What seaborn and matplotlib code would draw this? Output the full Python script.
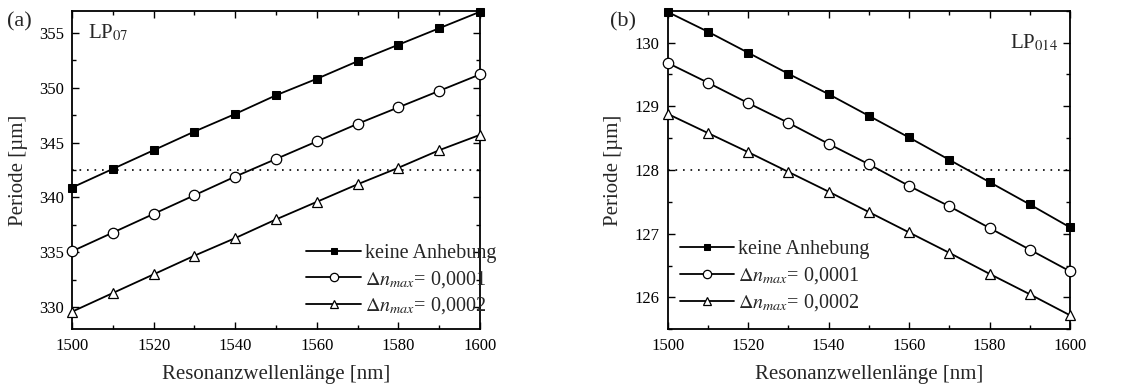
import numpy as np
import pandas as pd
import matplotlib
matplotlib.use("Agg")
import matplotlib.pyplot as plt
import seaborn as sns
from matplotlib.ticker import MultipleLocator

wavelength = [1500, 1510, 1520, 1530, 1540, 1550, 1560, 1570, 1580, 1590, 1600]

lp07_none = [340.9, 342.6, 344.3, 346.0, 347.6, 349.3, 350.8, 352.4, 353.9, 355.4, 356.9]
lp07_d1 = [335.1, 336.8, 338.5, 340.2, 341.9, 343.5, 345.1, 346.7, 348.2, 349.7, 351.2]
lp07_d2 = [329.6, 331.3, 333.0, 334.7, 336.3, 338.0, 339.6, 341.2, 342.7, 344.3, 345.7]
lp07_ref = 342.5

lp014_none = [130.48, 130.17, 129.84, 129.51, 129.19, 128.85, 128.51, 128.16, 127.81, 127.46, 127.10]
lp014_d1 = [129.68, 129.37, 129.05, 128.74, 128.41, 128.09, 127.75, 127.43, 127.09, 126.75, 126.41]
lp014_d2 = [128.88, 128.58, 128.28, 127.97, 127.66, 127.34, 127.02, 126.70, 126.37, 126.05, 125.72]
lp014_ref = 128.0

series_labels = ["keine Anhebung", r"$\Delta n_{max}$= 0,0001", r"$\Delta n_{max}$= 0,0002"]
x_ticks = [1500, 1520, 1540, 1560, 1580, 1600]
y_ticks_a = [330, 335, 340, 345, 350, 355]
y_ticks_b = [126, 127, 128, 129, 130]

sns.set_style("ticks")
plt.rcParams["font.family"] = ["Liberation Serif", "DejaVu Serif"]
plt.rcParams["mathtext.fontset"] = "stix"

fig = plt.figure(figsize=(11.36, 3.89), dpi=100)
ax1 = fig.add_axes([0.0634, 0.1535, 0.3591, 0.819])
ax2 = fig.add_axes([0.5878, 0.1535, 0.3541, 0.819])

marker_styles = [
    dict(marker="s", markerfacecolor="black", markeredgecolor="black", markersize=6),
    dict(marker="o", markerfacecolor="white", markeredgecolor="black", markersize=7.5, markeredgewidth=0.9),
    dict(marker="^", markerfacecolor="white", markeredgecolor="black", markersize=7.5, markeredgewidth=0.9),
]

def draw(ax, series, ref, ylim, yticks, yminor, legend_anchor):
    for vals, lab, ms in zip(series, series_labels, marker_styles):
        df = pd.DataFrame({"x": wavelength, "y": vals})
        sns.lineplot(data=df, x="x", y="y", ax=ax, color="black", linewidth=1.3,
                     label=lab, clip_on=False, zorder=3, **ms)
    ax.axhline(ref, color="black", linewidth=1.2, linestyle=(0, (1, 3.5)), zorder=2)
    ax.set_xlim(1500, 1600)
    ax.set_ylim(*ylim)
    ax.set_xticks(x_ticks)
    ax.set_yticks(yticks)
    ax.xaxis.set_minor_locator(MultipleLocator(10))
    ax.yaxis.set_minor_locator(MultipleLocator(yminor))
    ax.tick_params(which="both", direction="in", top=True, right=True, labelsize=12, width=1.0, colors="black")
    ax.tick_params(which="major", length=5, pad=6)
    ax.tick_params(which="minor", length=3)
    for sp in ax.spines.values():
        sp.set_linewidth(1.3)
        sp.set_color("black")
        sp.set_visible(True)
    ax.set_xlabel("Resonanzwellenlänge [nm]", fontsize=15, labelpad=8)
    ax.set_ylabel("Periode [µm]", fontsize=15, labelpad=8)
    ax.legend(loc="lower left", bbox_to_anchor=legend_anchor, frameon=False, fontsize=14.5,
              handlelength=2.7, handletextpad=0.2, labelspacing=0.3, borderaxespad=0.0,
              markerscale=0.8)

draw(ax1, [lp07_none, lp07_d1, lp07_d2], lp07_ref, (328, 357), y_ticks_a, 2.5, (0.555, 0.015))
draw(ax2, [lp014_none, lp014_d1, lp014_d2], lp014_ref, (125.5, 130.5), y_ticks_b, 0.5, (0.01, 0.025))

ax1.text(0.04, 0.93, r"LP$_{07}$", transform=ax1.transAxes, fontsize=15, va="center", ha="left")
ax2.text(0.97, 0.90, r"LP$_{014}$", transform=ax2.transAxes, fontsize=15, va="center", ha="right")

fig.text(0.006, 0.945, "(a)", fontsize=16, ha="left", va="center")
fig.text(0.537, 0.945, "(b)", fontsize=16, ha="left", va="center")

fig.savefig("out.png", dpi=100)
